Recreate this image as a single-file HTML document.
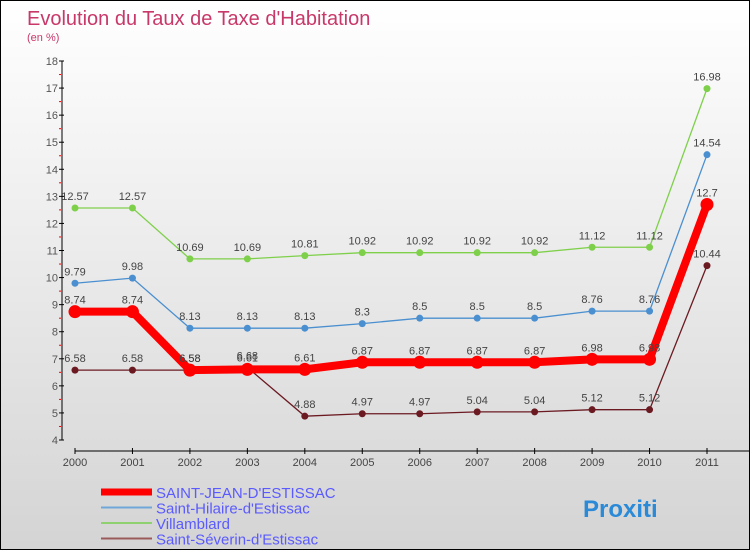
<!DOCTYPE html>
<html><head><meta charset="utf-8"><style>
body{margin:0;width:750px;height:550px;overflow:hidden;font-family:"Liberation Sans",sans-serif}
#c{position:absolute;left:0;top:0;width:748px;height:548px;border:1px solid #000;background:linear-gradient(#fff,#d4d4d4)}
text{font-family:"Liberation Sans",sans-serif}
</style></head><body>
<div id="c">
<svg id="s" width="748" height="548">
<text x="26" y="24" font-size="20" fill="#c8386a">Evolution du Taux de Taxe d'Habitation</text>
<text x="26" y="40" font-size="11" fill="#c8386a">(en %)</text>
</svg>
</div>
<script>
const years=["2000","2001","2002","2003","2004","2005","2006","2007","2008","2009","2010","2011"];
const yTicks=[4,5,6,7,8,9,10,11,12,13,14,15,16,17,18];
const stJean=[8.74,8.74,6.58,6.61,6.61,6.87,6.87,6.87,6.87,6.98,6.98,12.7];
const stHilaire=[9.79,9.98,8.13,8.13,8.13,8.3,8.5,8.5,8.5,8.76,8.76,14.54];
const villamblard=[12.57,12.57,10.69,10.69,10.81,10.92,10.92,10.92,10.92,11.12,11.12,16.98];
const stSeverin=[6.58,6.58,6.58,6.68,4.88,4.97,4.97,5.04,5.04,5.12,5.12,10.44];
const names=["SAINT-JEAN-D'ESTISSAC","Saint-Hilaire-d'Estissac","Villamblard","Saint-Séverin-d'Estissac"];
const NS="http://www.w3.org/2000/svg",svg=document.getElementById('s');
const X=i=>74+i*(706-74)/(years.length-1);
const Y=v=>439-(v-4)*(439-60)/14;
function el(t,a,p){const e=document.createElementNS(NS,t);for(const k in a)e.setAttribute(k,a[k]);(p||svg).appendChild(e);return e;}
let g=el('g',{});
el('line',{x1:61,y1:Y(18),x2:61,y2:Y(4),stroke:'#000'},g);
yTicks.forEach(v=>{el('line',{x1:58,y1:Y(v),x2:63,y2:Y(v),stroke:'#000'},g);
 if(v<18)el('line',{x1:58,y1:Y(v+0.5),x2:60,y2:Y(v+0.5),stroke:'#f00'},g);
 const t=el('text',{x:57,y:Y(v)+4,'font-size':11,fill:'#555','text-anchor':'end'},g);t.textContent=v;});
let gx=el('g',{});
el('line',{x1:74,y1:450,x2:748,y2:450,stroke:'#000'},gx);
years.forEach((y,i)=>{el('line',{x1:X(i),y1:447,x2:X(i),y2:453,stroke:'#000'},gx);
 const t=el('text',{x:X(i),y:465,'font-size':11,fill:'#444','text-anchor':'middle'},gx);t.textContent=y;});
function series(d,col,w,r,name){const gs=el('g',{});
 el('polyline',{points:d.map((v,i)=>X(i)+','+Y(v)).join(' '),fill:'none',stroke:col,'stroke-width':w},gs);
 d.forEach((v,i)=>{el('circle',{cx:X(i),cy:Y(v),r:r,fill:col},gs);
  const t=el('text',{x:X(i),y:Y(v)-8,'font-size':11,fill:'#444','text-anchor':'middle'},gs);t.textContent=v;});}
series(villamblard,'#7ed04a',1.3,3.5,'series-villamblard');
series(stHilaire,'#4a8fd0',1.3,3.5,'series-saint-hilaire');
series(stSeverin,'#6b1a22',1.3,3.5,'series-saint-severin');
series(stJean,'#f00',8,6.5,'series-saint-jean');
const lc=['#f00','#6fa8d8','#8fd070','#9a5a5a'],lw=[7,2,2,2];
names.forEach((n,i)=>{const gl=el('g',{});
 const y=491+i*15.5;el('line',{x1:100,y1:y,x2:151,y2:y,stroke:lc[i],'stroke-width':lw[i]},gl);
 const t=el('text',{x:155,y:y+6,'font-size':15,fill:'#5a5aff'},gl);t.textContent=n;});
const lg=el('text',{x:582,y:516,'font-size':24,'font-weight':'bold',fill:'#2a8ad8'});lg.textContent='Proxiti';
</script>
</body></html>
